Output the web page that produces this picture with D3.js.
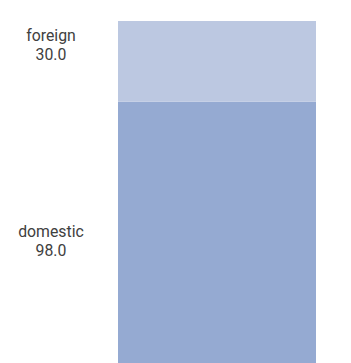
<!DOCTYPE html>
<html>
<head>
<meta charset="utf-8">
<script src="https://cdn.jsdelivr.net/npm/d3@7"></script>
<style>
  html, body { margin: 0; padding: 0; background: #fff; }
  svg { display: block; }
</style>
</head>
<body>
<div id="chart"></div>
<script>
const categories = ["domestic", "foreign"];
const values = [98.0, 30.0];
const colors = ["#95aad2", "#bcc8e1"];

const W = 351, H = 363;
const svg = d3.select("#chart").append("svg")
  .attr("width", W).attr("height", H);

const total = d3.sum(values);
const y = d3.scaleLinear().domain([0, total]).range([365, 21]);
const x = d3.scaleBand().domain(["all"]).range([118, 316]).padding(0);

let cum = 0;
const segs = categories.map((c, i) => {
  const s = { cat: c, v: values[i], y0: cum, y1: cum + values[i], color: colors[i] };
  cum += values[i];
  return s;
});

svg.selectAll("rect.seg").data(segs).join("rect")
  .attr("class", "seg")
  .attr("x", x("all"))
  .attr("width", x.bandwidth())
  .attr("y", d => y(d.y1))
  .attr("height", d => y(d.y0) - y(d.y1))
  .attr("fill", d => d.color);

// labels: domestic roughly centered on its segment, foreign near the top of its segment
const labelBaseline = d => d.cat === "foreign" ? y(d.y1) + 20 : y((d.y0 + d.y1) / 2) + 4;

const t = svg.selectAll("text.lab").data(segs).join("text")
  .attr("class", "lab")
  .attr("x", 51)
  .attr("y", d => labelBaseline(d))
  .attr("text-anchor", "middle")
  .attr("font-family", "Roboto, sans-serif")
  .attr("font-size", 15.8)
  .attr("fill", "#404040");
t.append("tspan").attr("x", 51).text(d => d.cat);
t.append("tspan").attr("x", 51).attr("dy", 19).text(d => d3.format(".1f")(d.v));
</script>
</body>
</html>
